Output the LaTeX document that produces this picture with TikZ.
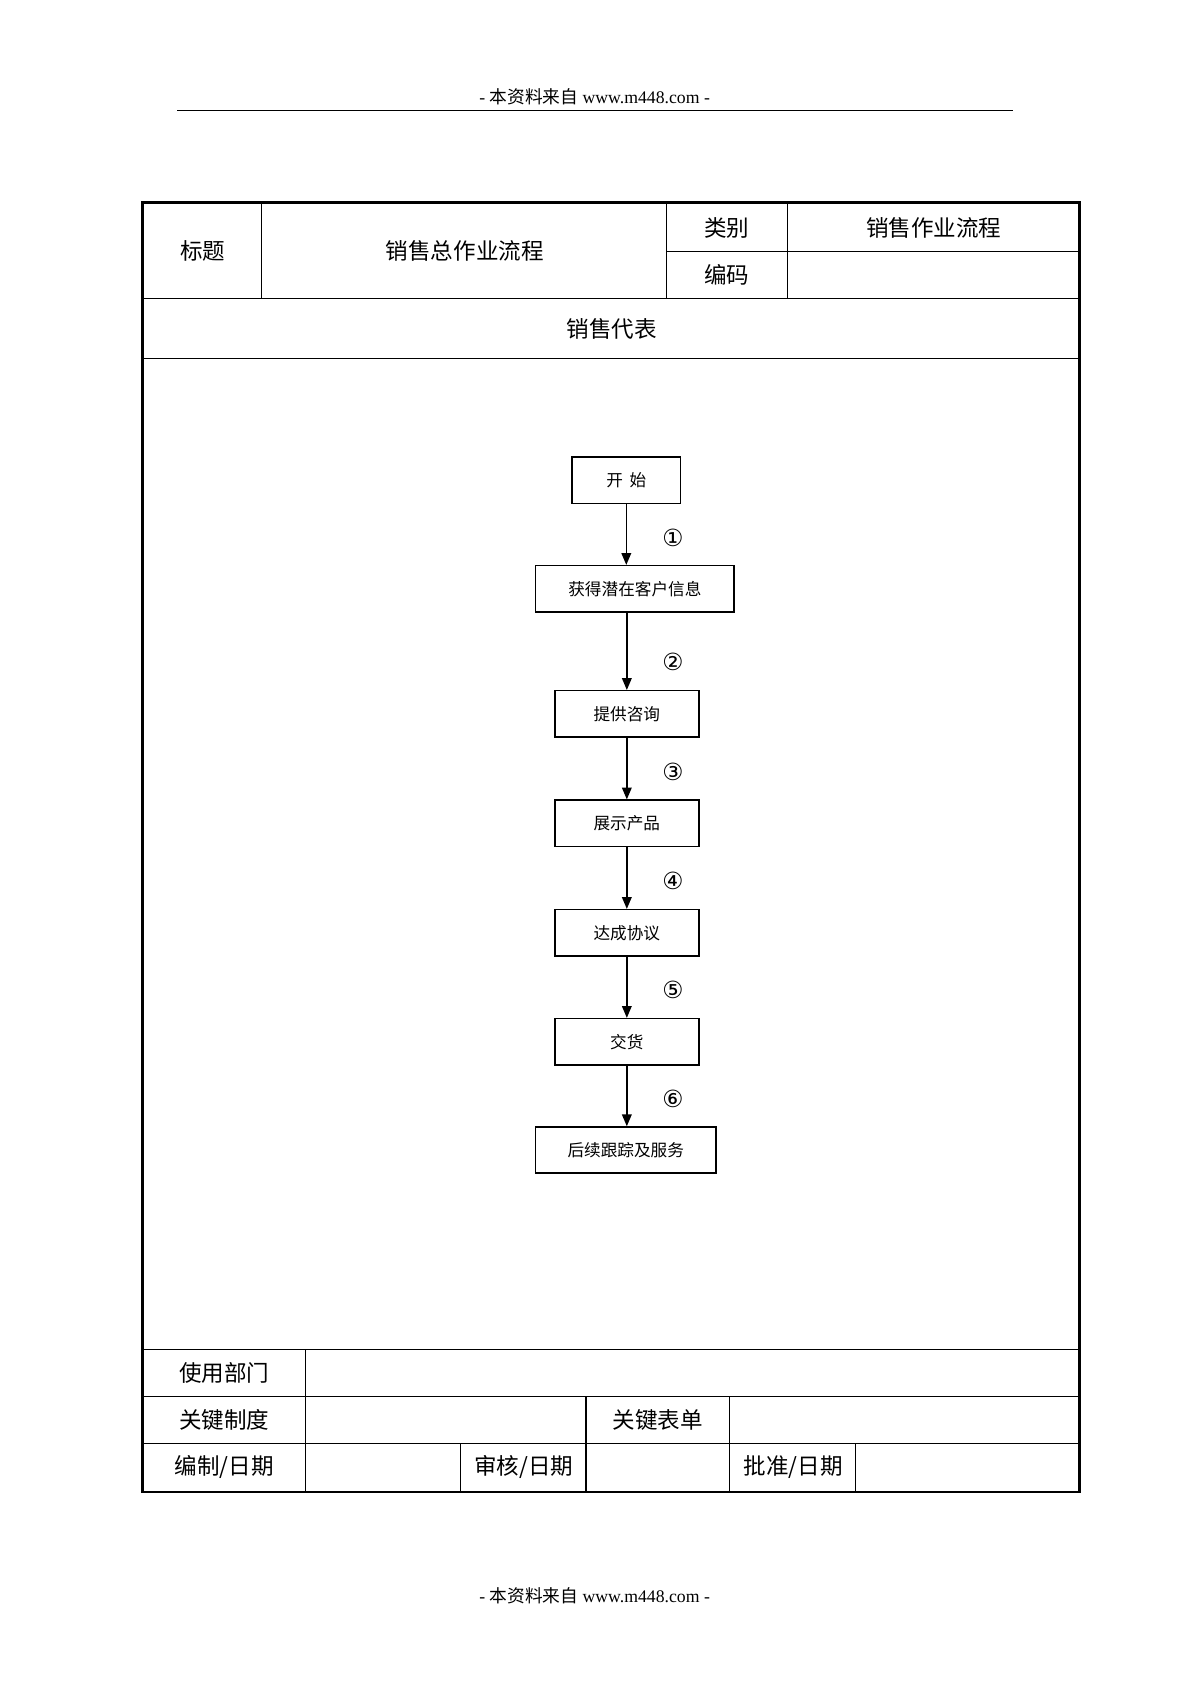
\documentclass[tikz,border=0pt]{standalone}
\usepackage{fontspec}
\setmainfont{Liberation Serif}
\newfontfamily\cjk{Noto Sans CJK SC}
\newfontfamily\dvs{DejaVu Sans}
\usetikzlibrary{arrows.meta}
\begin{document}
\begin{tikzpicture}[x=1pt,y=-1pt,
  tbl/.style={font=\cjk\fontsize{21}{21}\selectfont, inner sep=0pt},
  thin/.style={line width=1.1pt},
  frame/.style={line width=2.6pt},
  fbox/.style={draw, line width=1.4pt, inner sep=0pt, minimum height=43pt, font=\cjk\fontsize{15.5}{16}\selectfont},
  arr/.style={line width=1.3pt, -{Triangle[length=11pt,width=9pt]}},
  num/.style={font=\dvs\fontsize{22}{22}\selectfont, inner sep=0pt}]
\useasboundingbox (0,0) rectangle (1109,1568);
% page header and footer
\node[font=\fontsize{16.5}{16.5}\selectfont, inner sep=0pt] (hdr) at (554,90) {- {\cjk 本资料来自} www.m448.com -};
\draw[line width=1.6pt] (165,103) -- (944,103);
\node[font=\fontsize{16.5}{16.5}\selectfont, inner sep=0pt] (ftr) at (554,1487) {- {\cjk 本资料来自} www.m448.com -};
% table lines
\draw[thin] (133,278) -- (1006,278);
\draw[thin] (133,334) -- (1006,334);
\draw[thin] (244,189) -- (244,278);
\draw[thin] (621,189) -- (621,278);
\draw[thin] (734,189) -- (734,278);
\draw[thin] (621,234) -- (1006,234);
\draw[thin] (133,1257) -- (1006,1257);
\draw[thin] (133,1301) -- (1006,1301);
\draw[thin] (133,1345) -- (1006,1345);
\draw[thin] (285,1257) -- (285,1390);
\draw[thin] (546,1301) -- (546,1390);
\draw[thin] (680,1301) -- (680,1390);
\draw[thin] (429,1345) -- (429,1390);
\draw[thin] (797,1345) -- (797,1390);
\draw[frame] (133,189) rectangle (1006,1390);
% table texts
\node[tbl] (t1) at (189,234) {标题};
\node[tbl] (t2) at (433,234) {销售总作业流程};
\node[tbl] (t3) at (677,212) {类别};
\node[tbl] (t4) at (870,212) {销售作业流程};
\node[tbl] (t5) at (677,256) {编码};
\node[tbl] (t6) at (570,306) {销售代表};
\node[tbl] (t7) at (209,1279) {使用部门};
\node[tbl] (t8) at (209,1323) {关键制度};
\node[tbl] (t9) at (613,1323) {关键表单};
\node[tbl] (t10) at (209,1367) {编制/日期};
\node[tbl] (t11) at (488,1367) {审核/日期};
\node[tbl] (t12) at (739,1367) {批准/日期};
% flow boxes
\node[fbox, minimum width=101pt] (s0) at (583.5,447.5) {开\hspace{0.4em}始};
\node[fbox, minimum width=185pt] (s1) at (591.5,548.5) {获得潜在客户信息};
\node[fbox, minimum width=134pt] (s2) at (584,665) {提供咨询};
\node[fbox, minimum width=134pt] (s3) at (584,767) {展示产品};
\node[fbox, minimum width=134pt] (s4) at (584,869) {达成协议};
\node[fbox, minimum width=134pt] (s5) at (584,970.5) {交货};
\node[fbox, minimum width=168pt] (s6) at (583,1071.5) {后续跟踪及服务};
% arrows
\draw[arr] (s0.south) -- (s0.south |- s1.north);
\draw[arr] (s1.south -| s2.north) -- (s2.north);
\draw[arr] (s2.south) -- (s3.north);
\draw[arr] (s3.south) -- (s4.north);
\draw[arr] (s4.south) -- (s5.north);
\draw[arr] (s5.south) -- (s5.south |- s6.north);
% numbers
\node[num] (n1) at (627,501) {①};
\node[num] (n2) at (627,617) {②};
\node[num] (n3) at (627,719) {③};
\node[num] (n4) at (627,821) {④};
\node[num] (n5) at (627,922) {⑤};
\node[num] (n6) at (627,1024) {⑥};
\end{tikzpicture}
\end{document}
